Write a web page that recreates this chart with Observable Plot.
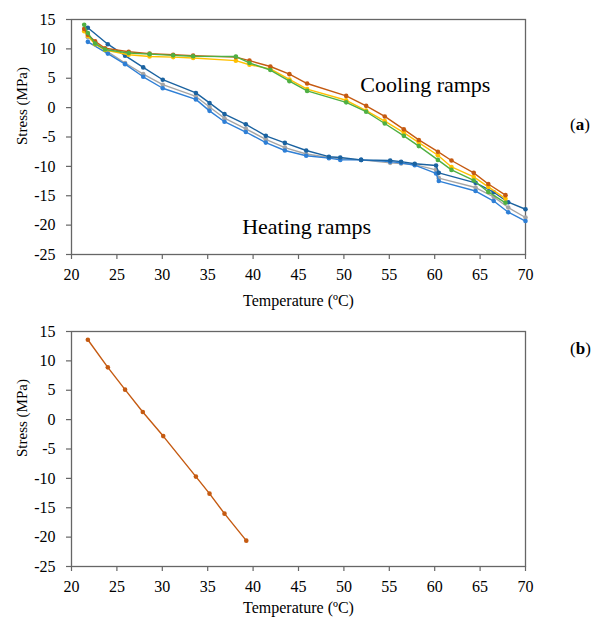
<!DOCTYPE html>
<html>
<head>
<meta charset="utf-8">
<script src="https://cdn.jsdelivr.net/npm/d3@7"></script>
<script src="https://cdn.jsdelivr.net/npm/@observablehq/plot@0.6"></script>
<style>
  body { margin: 0; background: white; }
  #wrap { position: relative; width: 608px; height: 619px; background: white; font-family: "Liberation Serif", serif; }
  #wrap svg { position: absolute; left: 0; overflow: visible; font-family: "Liberation Serif", serif !important; }
  #wrap svg text { font-family: "Liberation Serif", serif !important; }
  .tag { position: absolute; font-size: 17px; color: black; }
</style>
</head>
<body>
<div id="wrap"></div>
<script>
// ---- data ----
const xTicks = [20, 25, 30, 35, 40, 45, 50, 55, 60, 65, 70];
const yTicks = [15, 10, 5, 0, -5, -10, -15, -20, -25];

// Heating ramps (a)
const heatT = [21.8, 24, 25.9, 27.9, 30.05, 33.7, 35.2, 36.85, 39.2, 41.4, 43.5, 45.85, 48.35, 49.6, 51.9, 55.1, 56.3, 57.8, 60.15, 60.45, 64.5, 66.5, 68.1, 70];
const heatDark = [13.6, 10.8, 8.85, 6.85, 4.75, 2.5, 0.8, -1.1, -2.85, -4.8, -6.0, -7.3, -8.35, -8.5, -8.9, -9.0, -9.2, -9.55, -9.85, -11.1, -12.8, -14.4, -16.1, -17.3];
const heatGrey = [12.0, 9.5, 7.6, 5.7, 3.9, 1.9, 0.1, -1.8, -3.6, -5.4, -6.8, -7.9, -8.5, -8.7, -8.9, -9.4, -9.5, -9.7, -10.6, -12.0, -13.6, -15.2, -17.0, -18.7];
const heatLight = [11.2, 9.2, 7.4, 5.25, 3.3, 1.4, -0.55, -2.4, -4.15, -5.95, -7.3, -8.2, -8.6, -8.9, -8.9, -9.2, -9.4, -9.8, -11.2, -12.5, -14.2, -15.9, -17.8, -19.3];

// Cooling ramps (a)
const coolT = [67.8, 65.9, 64.3, 61.85, 60.35, 58.25, 56.6, 54.5, 52.45, 50.25, 45.95, 44.0, 41.9, 39.6, 38.1, 33.4, 31.2, 28.6, 26.3, 23.7, 22.6, 21.8, 21.4];
const coolOrange = [-14.9, -13.0, -11.1, -9.0, -7.5, -5.5, -3.7, -1.5, 0.3, 2.0, 4.1, 5.7, 7.0, 8.0, 8.6, 8.85, 9.0, 9.2, 9.5, 10.1, 11.3, 12.4, 13.4];
const coolYellow = [-15.5, -13.5, -11.8, -10.1, -8.1, -5.95, -4.25, -2.3, -0.5, 1.25, 3.15, 4.8, 6.6, 7.3, 8.0, 8.45, 8.6, 8.7, 9.0, 9.8, 10.8, 12.2, 13.0];
const coolGreen = [-16.2, -14.35, -12.4, -10.6, -8.9, -6.55, -4.8, -2.7, -0.7, 0.9, 2.85, 4.5, 6.4, 7.6, 8.7, 8.75, 8.9, 9.1, 9.3, 9.9, 10.9, 12.7, 14.1];

// (b)
const bT = [21.8, 24.0, 25.9, 27.85, 30.1, 33.7, 35.2, 36.85, 39.25];
const bS = [13.6, 8.9, 5.1, 1.3, -2.8, -9.7, -12.6, -16.0, -20.6];

const annotations = [
  {text: "Cooling ramps", x: 51.8, y: 3.9},
  {text: "Heating ramps", x: 38.8, y: -20.3}
];

// ---- helpers ----
const FONT = "Liberation Serif";
const xMin = d3.min(xTicks), xMax = d3.max(xTicks);
const yMin = d3.min(yTicks), yMax = d3.max(yTicks);
const zip = (xs, ys) => xs.map((x, i) => ({x, y: ys[i]}));
const fmt = d => String(d);

function seriesMarks(xs, ys, color) {
  const data = zip(xs, ys);
  return [
    Plot.line(data, {x: "x", y: "y", stroke: color, strokeWidth: 1.4}),
    Plot.dot(data, {x: "x", y: "y", fill: color, r: 2.3, stroke: "none"})
  ];
}

function axesMarks(titleDy) {
  return [
    Plot.frame({stroke: "#666", strokeWidth: 1.3}),
    // tick marks (outside the frame)
    Plot.ruleX(xTicks, {x: d => d, y1: yMin, y2: yMin, insetBottom: -5, stroke: "#666", strokeWidth: 1.2}),
    Plot.ruleY(yTicks, {y: d => d, x1: xMin, x2: xMin, insetLeft: -5, stroke: "#666", strokeWidth: 1.2}),
    // tick labels
    Plot.text(xTicks, {x: d => d, text: fmt, frameAnchor: "bottom", dy: 20, lineAnchor: "middle", fontSize: 16, fontFamily: FONT, fill: "black"}),
    Plot.text(yTicks, {y: d => d, text: fmt, frameAnchor: "left", dx: -16, textAnchor: "end", lineAnchor: "middle", fontSize: 16, fontFamily: FONT, fill: "black"}),
    // axis titles
    Plot.text(["Temperature (ºC)"], {frameAnchor: "bottom", dy: titleDy, lineAnchor: "middle", fontSize: 16, fontFamily: FONT, fill: "black"}),
    Plot.text(["Stress (MPa)"], {frameAnchor: "left", dx: -49, dy: 8, rotate: -90, lineAnchor: "middle", fontSize: 15, fontFamily: FONT, fill: "black"})
  ];
}

const common = {
  width: 608,
  marginTop: 19, marginLeft: 71, marginRight: 83,
  x: {domain: [xMin, xMax], axis: null},
  y: {domain: [yMin, yMax], axis: null},
  style: 'font-family: "Liberation Serif", serif; font-size: 16px; color: black; background: transparent; overflow: visible;'
};

const chartA = Plot.plot({
  ...common,
  height: 320, marginBottom: 66,
  marks: [
    ...axesMarks(46),
    ...seriesMarks(heatT, heatGrey, "#a5a5a5"),
    ...seriesMarks(heatT, heatLight, "#2e7fd6"),
    ...seriesMarks(heatT, heatDark, "#1a62a0"),
    ...seriesMarks(coolT, coolYellow, "#ffc000"),
    ...seriesMarks(coolT, coolOrange, "#c55a11"),
    ...seriesMarks(coolT, coolGreen, "#4fb043"),
    Plot.text(annotations, {x: "x", y: "y", text: "text", textAnchor: "start", lineAnchor: "middle", fontSize: 22, fontFamily: FONT, fill: "black"})
  ]
});

const chartB = Plot.plot({
  ...common,
  height: 307, marginBottom: 53,
  marks: [
    ...axesMarks(41),
    ...seriesMarks(bT, bS, "#c55a11")
  ]
});

const wrap = document.getElementById("wrap");
chartA.style.top = "0px";
chartB.style.top = "312px";
wrap.appendChild(chartA);
wrap.appendChild(chartB);

const tagA = document.createElement("div");
tagA.className = "tag"; tagA.innerHTML = "(<b>a</b>)";
tagA.style.left = "570px"; tagA.style.top = "115px";
const tagB = document.createElement("div");
tagB.className = "tag"; tagB.innerHTML = "(<b>b</b>)";
tagB.style.left = "570px"; tagB.style.top = "339px";
wrap.appendChild(tagA);
wrap.appendChild(tagB);
</script>
</body>
</html>
